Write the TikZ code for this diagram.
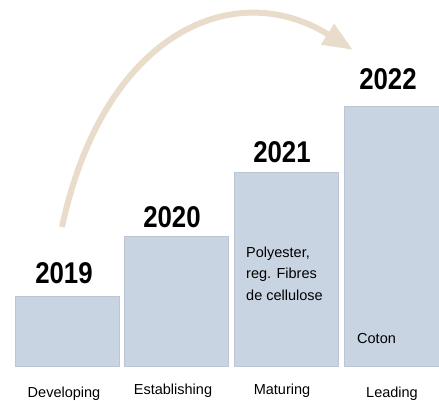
\documentclass[tikz,border=0pt]{standalone}
\usepackage{fontspec}
\setmainfont{Liberation Sans}
\newfontfamily\yearfont[FakeStretch=0.86]{Liberation Sans}
\usetikzlibrary{arrows.meta}
\definecolor{barblue}{HTML}{C9D4E2}
\definecolor{baredge}{HTML}{BCC6D3}
\definecolor{sand}{HTML}{E9DCCB}
\tikzset{
	bar/.style={draw=baredge, fill=barblue, line width=0.6pt, inner sep=0pt, anchor=south west},
	year/.style={font=\yearfont\bfseries\fontsize{30}{30}\selectfont, anchor=base, inner sep=0pt},
	stage/.style={font=\fontsize{14.5}{17}\selectfont, anchor=base, inner sep=0pt},
	inbar/.style={font=\fontsize{14.5}{21.5}\selectfont, align=left, anchor=base west, inner sep=0pt}
}
\begin{document}
\begin{tikzpicture}[x=1pt, y=-1pt]
		\useasboundingbox (0,0) rectangle (439,401);
		% bars
		\node [bar, minimum width=104pt, minimum height=70pt] (bar19) at (15,367) {};
		\node [bar, minimum width=104pt, minimum height=130pt] (bar20) at (124,367) {};
		\node [bar, minimum width=104pt, minimum height=194pt] (bar21) at (234,367) {};
		\node [bar, minimum width=100pt, minimum height=260pt] (bar22) at (344,367) {};
		% years
		\node [year] (y19) at (64,283) {2019};
		\node [year] (y20) at (172,227) {2020};
		\node [year] (y21) at (282,163) {2021};
		\node [year] (y22) at (388,90) {2022};
		% text in bars
		\node [inbar] (fibres) at (246,300) {Polyester,\\reg. Fibres\\de cellulose};
		\node [inbar] (coton) at (357,343) {Coton};
		% stages
		\node [stage] (developing) at (64,397) {Developing};
		\node [stage] (establishing) at (173,394) {Establishing};
		\node [stage] (maturing) at (282,394) {Maturing};
		\node [stage] (leading) at (392,397) {Leading};
		% arrow
		\coordinate (from) at (62,227);
		\coordinate (to) at (353,50);
		\draw [sand, line width=6pt, -{Triangle[length=30pt, width=23pt]}]
		(from) .. controls (103.6,32.4) and (234.3,-24.2) .. (to);
	\end{tikzpicture}
\end{document}
